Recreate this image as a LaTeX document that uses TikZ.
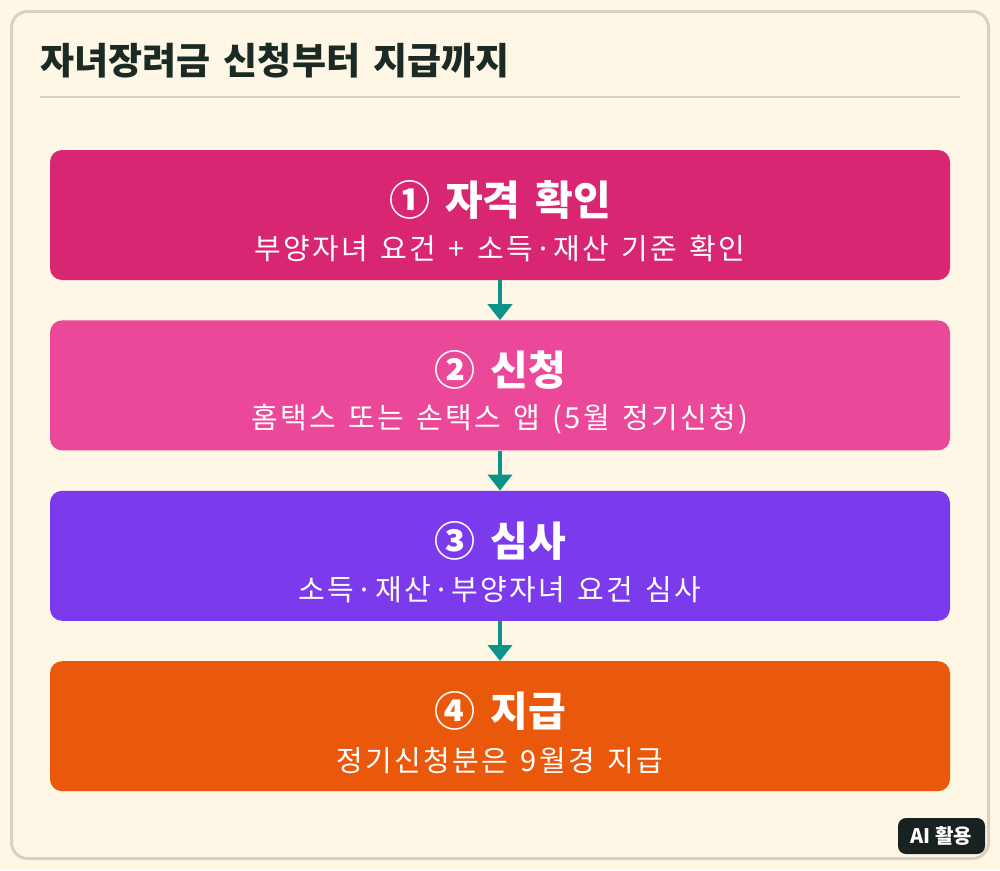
\documentclass[tikz,border=0pt]{standalone}
\usepackage{fontspec}
\setmainfont{Noto Sans CJK KR}
\newfontfamily\titlefont{Noto Sans CJK KR}[WordSpace=1.3]
\newfontfamily\headfont{Noto Sans CJK KR}[WordSpace=1.6]
\newfontfamily\subfont{Noto Sans CJK KR}[WordSpace=1.4,LetterSpace=8]
\usetikzlibrary{positioning}
\usetikzlibrary{arrows.meta}

\definecolor{paper}{HTML}{FEF7E6}
\definecolor{frameline}{HTML}{DAD0BF}
\definecolor{ink}{HTML}{1B2A25}
\definecolor{checkcol}{HTML}{D92673}
\definecolor{applycol}{HTML}{EC4899}
\definecolor{reviewcol}{HTML}{7C3AED}
\definecolor{paycol}{HTML}{EA580C}
\definecolor{flowcol}{HTML}{0D9488}
\definecolor{badgecol}{HTML}{172221}

\begin{document}
\begin{tikzpicture}[x=1pt,y=-1pt,
    stepbox/.style={rectangle, rounded corners=12pt, draw=none, minimum width=900pt,
    minimum height=130pt, inner sep=0pt, node distance=40pt},
    head/.style={text=white, font=\headfont\bfseries\fontsize{41}{46}\selectfont, inner sep=0pt},
    sub/.style={text=white, font=\subfont\fontsize{29}{34}\selectfont, inner sep=0pt},
    flow/.style={draw=flowcol, line width=4pt, -{Triangle[width=24pt,length=16pt]}}]
    \fill[paper] (0,0) rectangle (1000,870);
    \draw[frameline, line width=3pt, rounded corners=16pt] (11.5,11.5) rectangle (988.5,858.5);
    \node[anchor=west, text=ink, font=\titlefont\bfseries\fontsize{37}{43}\selectfont, inner sep=0pt]
    (title) at (40,61) {자녀장려금 신청부터 지급까지};
    \draw[frameline, line width=2pt] (40,97) -- (960,97);

    \node[stepbox, fill=checkcol] (check) at (500,215) {};
    \node[stepbox, fill=applycol] (apply) [below=of check] {};
    \node[stepbox, fill=reviewcol] (review) [below=of apply] {};
    \node[stepbox, fill=paycol] (pay) [below=of review] {};

    \node[head] (check-h) [yshift=15pt] at (check.center) {① 자격 확인};
    \node[sub] (check-s) [yshift=-34pt] at (check.center) {부양자녀 요건 + 소득·재산 기준 확인};
    \node[head] (apply-h) [yshift=15pt] at (apply.center) {② 신청};
    \node[sub] (apply-s) [yshift=-34pt] at (apply.center) {홈택스 또는 손택스 앱 (5월 정기신청)};
    \node[head] (review-h) [yshift=15pt] at (review.center) {③ 심사};
    \node[sub] (review-s) [yshift=-34pt] at (review.center) {소득·재산·부양자녀 요건 심사};
    \node[head] (pay-h) [yshift=15pt] at (pay.center) {④ 지급};
    \node[sub] (pay-s) [yshift=-34pt] at (pay.center) {정기신청분은 9월경 지급};

\draw[flow] (check) -- (apply);
\draw[flow] (apply) -- (review);
\draw[flow] (review) -- (pay);

    \node[fill=badgecol, rounded corners=8pt, minimum width=87pt, minimum height=36pt,
    text=white, font=\bfseries\fontsize{20}{24}\selectfont, inner sep=0pt]
    (badge) at (941.5,836) {AI 활용};
\end{tikzpicture}
\end{document}
